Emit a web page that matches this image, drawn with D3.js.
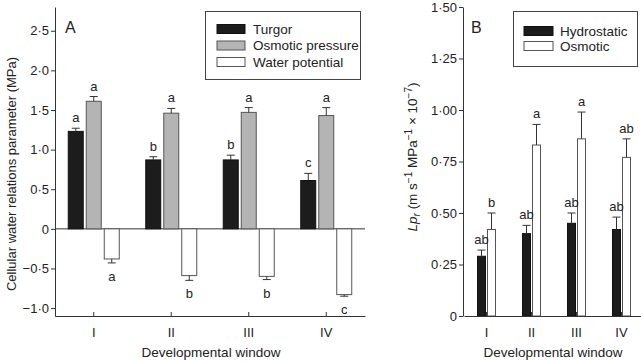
<!DOCTYPE html>
<html>
<head>
<meta charset="utf-8">
<script src="https://cdn.jsdelivr.net/npm/d3@7"></script>
<style>
    body { margin: 0; background: #fff; }
    svg { display: block; font-family: "Liberation Sans", Arial, sans-serif; }
    .axis path, .axis line { stroke: #333; }
    .axis text { font-size: 13px; fill: #222; font-family: "Liberation Sans", Arial, sans-serif; }
</style>
</head>
<body>
<script>
// panel A data
let windows = ["I", "II", "III", "IV"];
let seriesA = ["Turgor", "Osmotic pressure", "Water potential"];
let turgor = [1.23, 0.87, 0.87, 0.61];
let turgorErr = [0.04, 0.04, 0.06, 0.09];
let osmotic = [1.61, 1.46, 1.47, 1.43];
let osmoticErr = [0.06, 0.06, 0.06, 0.1];
let waterPot = [-0.38, -0.59, -0.60, -0.83];
let waterPotErr = [0.05, 0.06, 0.04, 0.02];
let lettersA = [["a", "b", "b", "c"], ["a", "a", "a", "a"], ["a", "b", "b", "c"]];
let ticksA = [-1, -0.5, 0, 0.5, 1, 1.5, 2, 2.5];

// panel B data
let seriesB = ["Hydrostatic", "Osmotic"];
let hydro = [0.29, 0.40, 0.45, 0.42];
let hydroErr = [0.03, 0.04, 0.05, 0.06];
let osmoB = [0.42, 0.83, 0.86, 0.77];
let osmoBErr = [0.08, 0.10, 0.13, 0.09];
let lettersB = [["ab", "ab", "ab", "ab"], ["b", "a", "a", "ab"]];
let ticksB = [0, 0.25, 0.5, 0.75, 1, 1.25, 1.5];

let svg = d3.select("body").append("svg")
    .attr("width", 641)
    .attr("height", 361);

function fmt(d, digits) {
    if (d === 0) return "0";
    return d.toFixed(digits).replace(".", "\u00b7").replace("-", "\u2212");
}

// ---------- Panel A ----------
let xA = d3.scaleBand().domain(windows).range([55, 365]);
let yA = d3.scaleLinear().domain([-1.1, 2.8]).range([316, 7]);

let colorsA = ["#1c1c1c", "#b4b4b4", "#ffffff"];
let strokesA = ["#111", "#555", "#555"];

let dataA = windows.map(function (w, i) {
    return [
        {w: w, s: 0, v: turgor[i], e: turgorErr[i], l: lettersA[0][i]},
        {w: w, s: 1, v: osmotic[i], e: osmoticErr[i], l: lettersA[1][i]},
        {w: w, s: 2, v: waterPot[i], e: waterPotErr[i], l: lettersA[2][i]}
    ];
}).flat();

let barW = 15, barStep = 18;
function cxA(d) {
    return xA(d.w) + xA.bandwidth() / 2 + (d.s - 1) * barStep;
}

svg.append("g")
    .attr("class", "axis")
    .attr("transform", "translate(55,0)")
    .call(d3.axisLeft(yA).tickValues(ticksA).tickSize(4).tickSizeOuter(0).tickPadding(2)
        .tickFormat(function (d) { return fmt(d, 1); }));

// zero line
svg.append("line")
    .attr("x1", 55).attr("x2", 365)
    .attr("y1", yA(0)).attr("y2", yA(0))
    .attr("stroke", "#333");

svg.selectAll(".barA")
    .data(dataA)
    .enter().append("rect")
    .attr("class", "barA")
    .attr("x", function (d) { return cxA(d) - barW / 2; })
    .attr("y", function (d) { return yA(Math.max(0, d.v)); })
    .attr("width", barW)
    .attr("height", function (d) { return Math.abs(yA(d.v) - yA(0)); })
    .style("fill", function (d) { return colorsA[d.s]; })
    .style("stroke", function (d) { return strokesA[d.s]; })
    .style("stroke-width", 1);

// error bars (one side only)
let errA = svg.selectAll(".errA")
    .data(dataA)
    .enter().append("g")
    .attr("class", "errA")
    .attr("stroke", "#333");

errA.append("line")
    .attr("x1", cxA).attr("x2", cxA)
    .attr("y1", function (d) { return yA(d.v); })
    .attr("y2", function (d) { return yA(d.v + Math.sign(d.v) * d.e); });

errA.append("line")
    .attr("x1", function (d) { return cxA(d) - 4; })
    .attr("x2", function (d) { return cxA(d) + 4; })
    .attr("y1", function (d) { return yA(d.v + Math.sign(d.v) * d.e); })
    .attr("y2", function (d) { return yA(d.v + Math.sign(d.v) * d.e); });

svg.selectAll(".letA")
    .data(dataA)
    .enter().append("text")
    .attr("x", cxA)
    .attr("y", function (d) {
        let top = yA(d.v + Math.sign(d.v) * d.e);
        return d.v > 0 ? top - 6 : top + 18;
    })
    .attr("text-anchor", "middle")
    .style("font-size", "13px")
    .style("fill", "#222")
    .text(function (d) { return d.l; });

svg.append("g")
    .attr("class", "axis")
    .attr("transform", "translate(0,316)")
    .call(d3.axisBottom(xA).tickSize(-4).tickSizeOuter(0).tickPadding(12));

svg.append("text")
    .attr("x", 65).attr("y", 33)
    .style("font-size", "16px")
    .style("fill", "#222")
    .text("A");

svg.append("text")
    .attr("transform", "translate(16,174) rotate(-90)")
    .attr("text-anchor", "middle")
    .style("font-size", "13px")
    .style("fill", "#222")
    .text("Cellular water relations parameter (MPa)");

svg.append("text")
    .attr("x", 211).attr("y", 357)
    .attr("text-anchor", "middle")
    .style("font-size", "13.5px")
    .style("fill", "#222")
    .text("Developmental window");

// legend A
svg.append("rect")
    .attr("x", 205.5).attr("y", 11.5)
    .attr("width", 155).attr("height", 68)
    .style("fill", "#fff").style("stroke", "#444");

let legA = svg.selectAll(".legA")
    .data(seriesA)
    .enter().append("g")
    .attr("class", "legA")
    .attr("transform", function (d, i) { return "translate(0," + (29 + i * 16.5) + ")"; });

legA.append("rect")
    .attr("x", 217).attr("y", -4.5)
    .attr("width", 28).attr("height", 9)
    .style("fill", function (d, i) { return colorsA[i]; })
    .style("stroke", function (d, i) { return strokesA[i]; });

legA.append("text")
    .attr("x", 253).attr("y", 0)
    .attr("dy", "0.35em")
    .style("font-size", "13.5px")
    .style("fill", "#222")
    .text(function (d) { return d; });

// ---------- Panel B ----------
let xB = d3.scaleBand().domain(windows).range([464, 644]);
let yB = d3.scaleLinear().domain([0, 1.5]).range([316, 7]);

let colorsB = ["#1c1c1c", "#ffffff"];
let strokesB = ["#111", "#555"];

let dataB = windows.map(function (w, i) {
    return [
        {w: w, s: 0, v: hydro[i], e: hydroErr[i], l: lettersB[0][i]},
        {w: w, s: 1, v: osmoB[i], e: osmoBErr[i], l: lettersB[1][i]}
    ];
}).flat();

let barWB = 8;
function cxB(d) {
    return xB(d.w) + xB.bandwidth() / 2 + (d.s === 0 ? -5 : 5);
}

svg.append("g")
    .attr("class", "axis")
    .attr("transform", "translate(463,0)")
    .call(d3.axisLeft(yB).tickValues(ticksB).tickSize(4).tickSizeOuter(0).tickPadding(2)
        .tickFormat(function (d) { return fmt(d, 2); }));

svg.selectAll(".barB")
    .data(dataB)
    .enter().append("rect")
    .attr("class", "barB")
    .attr("x", function (d) { return cxB(d) - barWB / 2; })
    .attr("y", function (d) { return yB(d.v); })
    .attr("width", barWB)
    .attr("height", function (d) { return yB(0) - yB(d.v); })
    .style("fill", function (d) { return colorsB[d.s]; })
    .style("stroke", function (d) { return strokesB[d.s]; });

let errB = svg.selectAll(".errB")
    .data(dataB)
    .enter().append("g")
    .attr("class", "errB")
    .attr("stroke", "#333");

errB.append("line")
    .attr("x1", cxB).attr("x2", cxB)
    .attr("y1", function (d) { return yB(d.v); })
    .attr("y2", function (d) { return yB(d.v + d.e); });

errB.append("line")
    .attr("x1", function (d) { return cxB(d) - 4; })
    .attr("x2", function (d) { return cxB(d) + 4; })
    .attr("y1", function (d) { return yB(d.v + d.e); })
    .attr("y2", function (d) { return yB(d.v + d.e); });

svg.selectAll(".letB")
    .data(dataB)
    .enter().append("text")
    .attr("x", cxB)
    .attr("y", function (d) { return yB(d.v + d.e) - 6; })
    .attr("text-anchor", "middle")
    .style("font-size", "13px")
    .style("fill", "#222")
    .text(function (d) { return d.l; });

svg.append("g")
    .attr("class", "axis")
    .attr("transform", "translate(0,316)")
    .call(d3.axisBottom(xB).tickSize(-4).tickSizeOuter(0).tickPadding(12));

svg.append("text")
    .attr("x", 471).attr("y", 33)
    .style("font-size", "16px")
    .style("fill", "#222")
    .text("B");

let ylabB = svg.append("text")
    .attr("transform", "translate(417,157) rotate(-90)")
    .attr("text-anchor", "middle")
    .style("font-size", "13.5px")
    .style("fill", "#222");
ylabB.append("tspan").style("font-style", "italic").text("Lp");
ylabB.append("tspan").style("font-style", "italic").style("font-size", "10px").attr("dy", 3).text("r");
ylabB.append("tspan").attr("dy", -3).text(" (m s");
ylabB.append("tspan").style("font-size", "10px").attr("dy", -5).text("\u22121");
ylabB.append("tspan").attr("dy", 5).text(" MPa");
ylabB.append("tspan").style("font-size", "10px").attr("dy", -5).text("\u22121");
ylabB.append("tspan").attr("dy", 5).text(" \u00d7 10");
ylabB.append("tspan").style("font-size", "10px").attr("dy", -5).text("\u22127");
ylabB.append("tspan").attr("dy", 5).text(")");

svg.append("text")
    .attr("x", 553).attr("y", 357)
    .attr("text-anchor", "middle")
    .style("font-size", "13.5px")
    .style("fill", "#222")
    .text("Developmental window");

// legend B
svg.append("rect")
    .attr("x", 513.5).attr("y", 11.5)
    .attr("width", 124).attr("height", 55)
    .style("fill", "#fff").style("stroke", "#444");

let legB = svg.selectAll(".legB")
    .data(seriesB)
    .enter().append("g")
    .attr("class", "legB")
    .attr("transform", function (d, i) { return "translate(0," + (31 + i * 15) + ")"; });

legB.append("rect")
    .attr("x", 524).attr("y", -4.5)
    .attr("width", 29).attr("height", 9)
    .style("fill", function (d, i) { return colorsB[i]; })
    .style("stroke", function (d, i) { return strokesB[i]; });

legB.append("text")
    .attr("x", 560).attr("y", 0)
    .attr("dy", "0.35em")
    .style("font-size", "13.5px")
    .style("fill", "#222")
    .text(function (d) { return d; });
</script>
</body>
</html>
